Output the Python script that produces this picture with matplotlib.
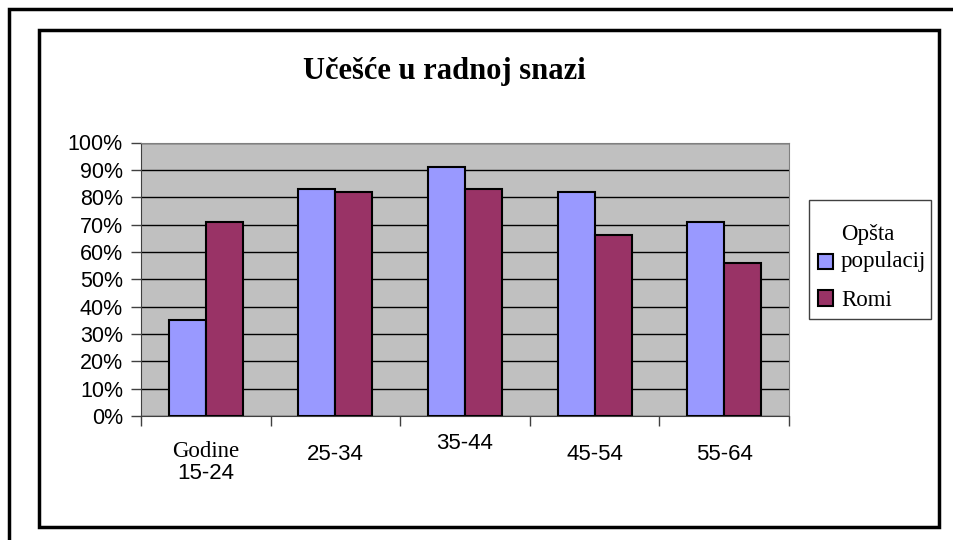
import matplotlib.pyplot as plt
import matplotlib.patches as mpatches
import numpy as np

# podaci
grupe = ["15-24", "25-34", "35-44", "45-54", "55-64"]
opsta = [35, 83, 91, 82, 71]
romi = [71, 82, 83, 66, 56]
serije = ["Opšta\npopulacij", "Romi"]
boje = ["#9999FF", "#993366"]

W, H = 954, 540
fig = plt.figure(figsize=(W / 100, H / 100), dpi=100)

# okviri
fig.add_artist(mpatches.Rectangle((9 / W, -0.2), 1.2, 1.2 - 9 / H,
                                  transform=fig.transFigure, fill=False,
                                  lw=2.5, ec="black"))
fig.add_artist(mpatches.Rectangle((38.5 / W, 1 - 527 / H), (939 - 38.5) / W,
                                  (527 - 29.5) / H, transform=fig.transFigure,
                                  fill=False, lw=2.5, ec="black"))

ax = fig.add_axes([141 / W, 1 - 416 / H, (789 - 141) / W, (416 - 142.5) / H])
ax.set_facecolor("#C0C0C0")

x = np.arange(len(grupe))
sirina = 0.285
b1 = ax.bar(x - sirina / 2, opsta, sirina, color=boje[0], edgecolor="black",
            lw=1.5, label=serije[0], zorder=3)
b2 = ax.bar(x + sirina / 2, romi, sirina, color=boje[1], edgecolor="black",
            lw=1.5, label=serije[1], zorder=3)

ax.set_xlim(-0.5, len(grupe) - 0.5)
ax.set_ylim(0, 100)
ax.set_yticks(np.arange(0, 101, 10))
ax.set_yticklabels([f"{v}%" for v in range(0, 101, 10)],
                   family="Liberation Sans", fontsize=15.5)
ax.yaxis.grid(True, color="black", lw=1)
ax.set_axisbelow(True)
ax.tick_params(axis="y", length=7, width=1, pad=6, color="#404040")

ax.set_xticks(x)
ax.set_xticklabels(grupe, family="Liberation Sans", fontsize=16)
ax.set_xticks(np.arange(-0.5, len(grupe)), minor=True)
ax.tick_params(axis="x", which="major", length=0)
ax.tick_params(axis="x", which="minor", length=7, width=1, color="#404040")
padovi = [34, 20, 12, 20, 20]
for t, p in zip(ax.xaxis.get_major_ticks(), padovi):
    t.set_pad(p)
ax.text(0, -0.093, "Godine", transform=ax.get_xaxis_transform(),
        ha="center", va="top", family="Liberation Serif", fontsize=16.5)

for s in ["top", "right"]:
    ax.spines[s].set_color("#808080")
ax.spines["left"].set_color("#404040")
ax.spines["bottom"].set_color("#404040")

fig.text(444 / W, 1 - 71 / H, "Učešće u radnoj snazi", ha="center",
         va="center", family="Liberation Serif", weight="bold", fontsize=22)

# legenda
fig.add_artist(mpatches.Rectangle((809 / W, 1 - 319 / H), (931 - 809) / W,
                                  (319 - 200) / H, transform=fig.transFigure,
                                  fc="white", ec="#404040", lw=1))
leg = fig.legend(handles=[b1, b2], loc="upper left",
                 bbox_to_anchor=(818 / W, 1 - 224 / H),
                 prop={"family": "Liberation Serif", "size": 16.5},
                 frameon=False,
                 handlelength=0.65, handleheight=0.65, handletextpad=0.35,
                 borderpad=0, labelspacing=0.8, borderaxespad=0)
for t in leg.get_texts():
    t.set_linespacing(1.35)
# kvadratic uz drugi red natpisa
h0 = leg.legend_handles[0]
h0.set_y(h0.get_y() - 9.7)

fig.savefig("out.png", dpi=100)
